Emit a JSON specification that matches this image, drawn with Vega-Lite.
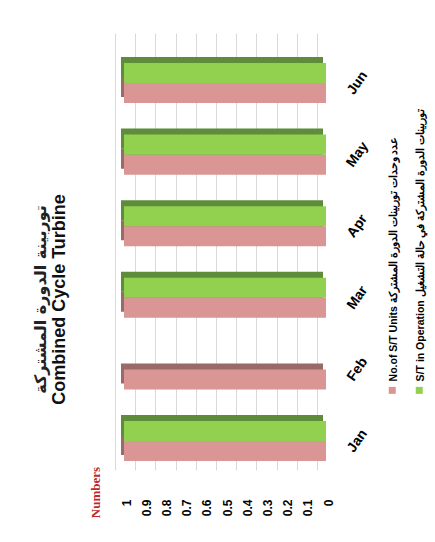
{
  "$schema": "https://vega.github.io/schema/vega-lite/v6.json",
  "autosize": {"type": "none"},
  "width": 202,
  "height": 437,
  "padding": {"left": 115, "top": 33, "right": 118, "bottom": 72},
  "background": "white",
  "config": {"view": {"stroke": null}, "font": "Liberation Sans"},
  "title": {
    "text": "توربينة الدورة المشتركة",
    "subtitle": "Combined Cycle Turbine",
    "orient": "left",
    "anchor": "middle",
    "font": "DejaVu Sans",
    "fontSize": 16,
    "fontWeight": "bold",
    "color": "#222222",
    "subtitleFont": "Liberation Sans",
    "subtitleFontSize": 18,
    "subtitleFontWeight": "bold",
    "subtitleColor": "#111111",
    "subtitlePadding": 2,
    "offset": 20,
    "dx": -48
  },
  "data": {
    "values": [
      {"month": "Jan", "series": "No.of S/T Units  عدد وحدات توربينات الدورة المشتركة", "value": 1},
      {"month": "Jan", "series": "S/T in Operation  توربينات الدورة المشتركة في حالة التشغيل", "value": 1},
      {"month": "Feb", "series": "No.of S/T Units  عدد وحدات توربينات الدورة المشتركة", "value": 1},
      {"month": "Feb", "series": "S/T in Operation  توربينات الدورة المشتركة في حالة التشغيل", "value": 0},
      {"month": "Mar", "series": "No.of S/T Units  عدد وحدات توربينات الدورة المشتركة", "value": 1},
      {"month": "Mar", "series": "S/T in Operation  توربينات الدورة المشتركة في حالة التشغيل", "value": 1},
      {"month": "Apr", "series": "No.of S/T Units  عدد وحدات توربينات الدورة المشتركة", "value": 1},
      {"month": "Apr", "series": "S/T in Operation  توربينات الدورة المشتركة في حالة التشغيل", "value": 1},
      {"month": "May", "series": "No.of S/T Units  عدد وحدات توربينات الدورة المشتركة", "value": 1},
      {"month": "May", "series": "S/T in Operation  توربينات الدورة المشتركة في حالة التشغيل", "value": 1},
      {"month": "Jun", "series": "No.of S/T Units  عدد وحدات توربينات الدورة المشتركة", "value": 1},
      {"month": "Jun", "series": "S/T in Operation  توربينات الدورة المشتركة في حالة التشغيل", "value": 1}
    ]
  },
  "encoding": {
    "y": {
      "field": "month",
      "type": "nominal",
      "scale": {"domain": ["Jun", "May", "Apr", "Mar", "Feb", "Jan"], "paddingInner": 0.44, "paddingOuter": 0.272, "align": 0.77},
      "axis": {
        "orient": "right",
        "title": null,
        "domain": false,
        "ticks": false,
        "labelAngle": -55,
        "labelAlign": "center",
        "labelBaseline": "middle",
        "labelPadding": 40,
        "labelFontSize": 14,
        "labelFontWeight": "bold",
        "labelColor": "#000000"
      }
    },
    "x": {
      "field": "value",
      "type": "quantitative",
      "scale": {"domain": [0, 1], "reverse": true, "nice": false},
      "axis": {
        "values": [0, 0.1, 0.2, 0.3, 0.4, 0.5, 0.6, 0.7, 0.8, 0.9, 1],
        "format": "~g",
        "grid": true,
        "gridColor": "#d9d9d9",
        "gridWidth": 1,
        "domain": false,
        "ticks": false,
        "labelAngle": -90,
        "labelPadding": 29,
        "labelOffset": 11,
        "labelFontSize": 12,
        "labelFontWeight": "bold",
        "labelColor": "#000000",
        "title": "Numbers",
        "titleAngle": -90,
        "titleX": -20,
        "titleY": 22,
        "titleAlign": "center",
        "titleBaseline": "middle",
        "titleFont": "Liberation Serif",
        "titleFontSize": 13,
        "titleFontWeight": "bold",
        "titleColor": "#c0282d"
      }
    }
  },
  "layer": [
    {
      "mark": {"type": "bar", "xOffset": 6},
      "encoding": {
        "yOffset": {
          "field": "series",
          "type": "nominal",
          "scale": {"domain": ["S/T in Operation  توربينات الدورة المشتركة في حالة التشغيل", "No.of S/T Units  عدد وحدات توربينات الدورة المشتركة"], "range": [-6, 34.1], "paddingInner": 0, "paddingOuter": 0}
        },
        "color": {
          "condition": {"test": "indexof(datum.series, 'Operation') >= 0", "value": "#5f8c3a"},
          "value": "#9a6a68"
        }
      }
    },
    {
      "mark": {"type": "bar", "xOffset": 9},
      "encoding": {
        "yOffset": {
          "field": "series",
          "type": "nominal",
          "scale": {"domain": ["S/T in Operation  توربينات الدورة المشتركة في حالة التشغيل", "No.of S/T Units  عدد وحدات توربينات الدورة المشتركة"], "paddingInner": 0, "paddingOuter": 0}
        },
        "color": {
          "field": "series",
          "type": "nominal",
          "scale": {"domain": ["No.of S/T Units  عدد وحدات توربينات الدورة المشتركة", "S/T in Operation  توربينات الدورة المشتركة في حالة التشغيل"], "range": ["#d99694", "#92d050"]},
          "legend": {
            "title": null,
            "orient": "none",
            "legendX": 272,
            "legendY": 352,
            "direction": "horizontal",
            "symbolType": "square",
            "symbolSize": 49,
            "symbolStrokeWidth": 0,
            "labelFontSize": 10.5,
            "labelFontWeight": "bold",
            "labelColor": "#000000",
            "labelLimit": 400,
            "labelOffset": -4,
            "labelAlign": "left",
            "labelBaseline": "middle",
            "columnPadding": 14,
            "encode": {"labels": {"update": {"angle": {"value": -90}, "dx": {"value": 9}}}}
          }
        }
      }
    }
  ],
  "resolve": {"scale": {"yOffset": "independent"}}
}
